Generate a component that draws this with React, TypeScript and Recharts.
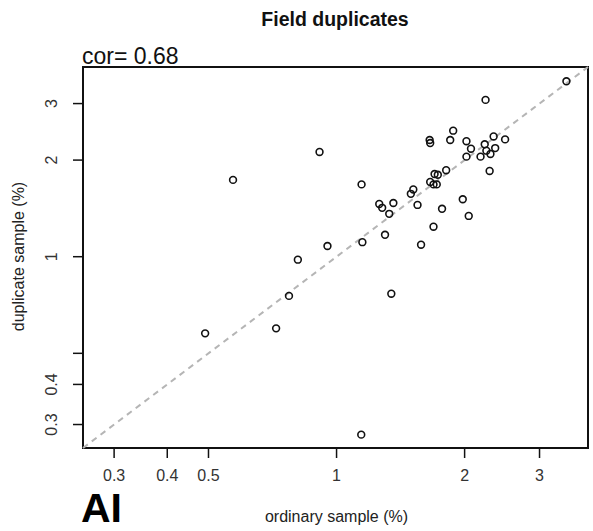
import React from 'react';
import { ScatterChart, Scatter, XAxis, YAxis, ReferenceLine, ReferenceArea } from 'recharts';

// ordinary vs duplicate assay values (%)
const ordinary = [
  3.47, 2.24, 0.912, 1.88, 1.655, 1.66, 1.85, 2.02, 2.34, 2.49, 2.23, 2.07, 2.25, 2.36, 2.3, 2.18,
  2.02, 2.29, 1.81, 1.7, 1.73, 1.66, 1.69, 1.72, 1.145, 1.515, 1.495, 1.98, 2.045, 1.26, 1.28, 1.36,
  1.33, 1.55, 1.77, 1.3, 1.69, 1.15, 0.952, 1.58, 1.345, 0.811, 0.571, 0.491, 0.721, 0.773, 1.143,
];
const duplicate = [
  3.52, 3.08, 2.12, 2.47, 2.31, 2.26, 2.31, 2.29, 2.37, 2.32, 2.24, 2.17, 2.14, 2.18, 2.09, 2.05,
  2.05, 1.85, 1.86, 1.81, 1.8, 1.71, 1.68, 1.68, 1.68, 1.62, 1.57, 1.51, 1.34, 1.46, 1.42, 1.47,
  1.36, 1.45, 1.41, 1.17, 1.24, 1.11, 1.08, 1.09, 0.767, 0.979, 1.735, 0.577, 0.598, 0.755, 0.279,
];

const xTicks = [0.3, 0.4, 0.5, 1, 2, 3];
const yTicks = [0.3, 0.4, 0.5, 1, 2, 3];
const yHiddenLabels = [0.5];
const axisMin = 0.2535;
const axisMax = 3.9;

const points = ordinary.map((x, i) => ({ x, y: duplicate[i] }));

const FONT = '"Liberation Sans", Arial, sans-serif';

const Ring = (props: any) => {
  const { cx, cy } = props;
  if (cx == null || cy == null) return <g />;
  return <circle cx={cx} cy={cy} r={3.4} fill="none" stroke="#111" strokeWidth={1.6} />;
};

const XTick = (props: any) => {
  const { x, payload } = props;
  return (
    <text x={x} y={481} textAnchor="middle" fontSize={16} fontFamily={FONT} fill="#333">
      {payload.value}
    </text>
  );
};

const YTick = (props: any) => {
  const { y, payload } = props;
  if (yHiddenLabels.includes(payload.value)) return <g />;
  return (
    <text
      x={57.5}
      y={y}
      transform={`rotate(-90 57.5 ${y})`}
      textAnchor="middle"
      fontSize={16}
      fontFamily={FONT}
      fill="#333"
    >
      {payload.value}
    </text>
  );
};

export default function App() {
  return (
    <div style={{ position: 'absolute', left: 0, top: 0, width: 593, height: 531, background: '#fff' }}>
      <ScatterChart width={593} height={531} margin={{ top: 67, right: 5, bottom: 0, left: 0 }}>
        <XAxis
          type="number"
          dataKey="x"
          scale="log"
          domain={[axisMin, axisMax]}
          allowDataOverflow
          ticks={xTicks}
          height={83}
          axisLine={false}
          tickSize={10}
          tickLine={{ stroke: '#111', strokeWidth: 1.5 }}
          tick={<XTick />}
        />
        <YAxis
          type="number"
          dataKey="y"
          scale="log"
          domain={[axisMin, axisMax]}
          allowDataOverflow
          ticks={yTicks}
          width={83}
          axisLine={false}
          tickSize={10}
          tickLine={{ stroke: '#111', strokeWidth: 1.5 }}
          tick={<YTick />}
        />
        <ReferenceLine
          segment={[
            { x: axisMin, y: axisMin },
            { x: axisMax, y: axisMax },
          ]}
          stroke="#b5b5b5"
          strokeWidth={2}
          strokeDasharray="6 5"
        />
        <Scatter data={points} shape={<Ring />} isAnimationActive={false} />
        <ReferenceArea
          x1={axisMin}
          x2={axisMax}
          y1={axisMin}
          y2={axisMax}
          fill="none"
          fillOpacity={0}
          stroke="#111"
          strokeWidth={2}
        />
        <text x={335} y={26} textAnchor="middle" fontSize={19.5} fontWeight="bold" fontFamily={FONT} fill="#111">
          Field duplicates
        </text>
        <text x={82} y={64} fontSize={23} fontFamily={FONT} fill="#111">
          cor= 0.68
        </text>
        <text x={336.5} y={522} textAnchor="middle" fontSize={16} fontFamily={FONT} fill="#222">
          ordinary sample (%)
        </text>
        <text
          x={24}
          y={256.5}
          transform="rotate(-90 24 256.5)"
          textAnchor="middle"
          fontSize={16}
          fontFamily={FONT}
          fill="#222"
        >
          duplicate sample (%)
        </text>
        <text x={81} y={522} fontSize={41} fontWeight="bold" fontFamily={FONT} fill="#000">
          AI
        </text>
      </ScatterChart>
    </div>
  );
}
